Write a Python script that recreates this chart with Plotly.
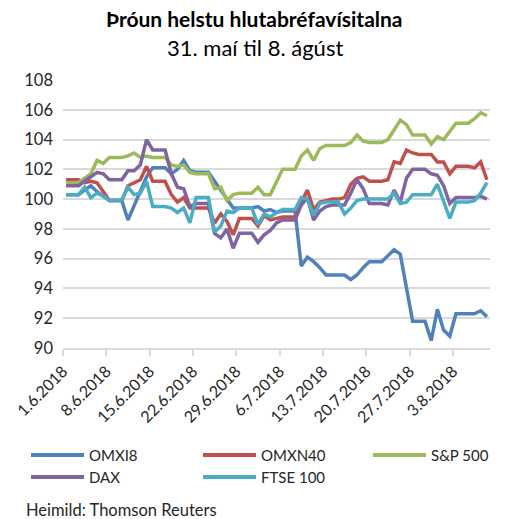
import pandas as pd
import plotly.graph_objects as go

# ---- data (calendar days 1.6.2018 - 8.8.2018, weekends carry Friday value) ----
dates = pd.date_range("2018-06-01", "2018-08-08", freq="D") + pd.Timedelta(hours=12)

omxi8 = [100.3, 100.3, 100.3, 100.6, 100.9, 100.5, 100.2, 99.9, 99.9, 99.9,
         98.6, 99.6, 100.6, 101.5, 102.1, 102.1, 102.1, 101.7, 102.0, 102.6,
         101.9, 101.8, 101.8, 101.8, 101.2, 100.6, 100.0, 99.4, 99.4, 99.4,
         99.4, 99.5, 99.2, 99.3, 99.1, 99.2, 99.2, 99.2, 95.5, 96.1,
         95.8, 95.4, 94.9, 94.9, 94.9, 94.9, 94.6, 94.9, 95.4, 95.8,
         95.8, 95.8, 96.2, 96.6, 96.3, 94.0, 91.8, 91.8, 91.8, 90.5,
         92.6, 91.2, 90.8, 92.3, 92.3, 92.3, 92.3, 92.5, 92.1]

omxn40 = [101.3, 101.3, 101.3, 101.1, 101.2, 101.1, 100.5, 99.9, 99.9, 99.9,
          100.9, 101.1, 101.3, 102.2, 101.2, 101.2, 101.2, 100.3, 99.8, 100.1,
          99.4, 99.4, 99.4, 99.4, 98.4, 99.0, 98.5, 97.6, 98.7, 98.7,
          98.7, 98.2, 98.9, 98.6, 98.7, 98.8, 98.8, 98.8, 99.8, 100.6,
          99.3, 99.8, 99.9, 100.0, 100.0, 100.1, 101.0, 101.4, 101.5, 101.2,
          101.2, 101.2, 101.3, 102.5, 102.4, 103.3, 103.1, 103.0, 103.0, 103.0,
          102.5, 102.5, 101.7, 102.2, 102.2, 102.2, 102.1, 102.5, 101.3]

sp500 = [101.1, 101.1, 101.1, 101.4, 101.7, 102.6, 102.4, 102.8, 102.8, 102.8,
         102.9, 103.1, 102.8, 102.9, 102.8, 102.8, 102.8, 102.3, 102.2, 102.3,
         101.8, 101.7, 101.7, 101.7, 100.7, 100.8, 99.9, 100.3, 100.4, 100.4,
         100.4, 100.8, 100.3, 100.3, 101.2, 102.0, 102.0, 102.0, 102.9, 103.3,
         102.6, 103.4, 103.6, 103.6, 103.6, 103.6, 103.8, 104.3, 103.9, 103.8,
         103.8, 103.8, 104.0, 104.7, 105.3, 105.0, 104.3, 104.3, 104.3, 103.7,
         104.2, 104.0, 104.6, 105.1, 105.1, 105.1, 105.4, 105.8, 105.6]

dax = [100.9, 100.9, 100.9, 101.2, 101.5, 101.8, 101.7, 101.3, 101.3, 101.3,
       101.9, 101.9, 102.3, 104.0, 103.3, 103.3, 103.3, 101.7, 100.8, 100.7,
       99.5, 99.7, 99.7, 99.7, 97.7, 97.4, 98.0, 96.7, 97.7, 97.7,
       97.7, 97.1, 97.6, 97.9, 98.4, 98.6, 98.6, 98.6, 99.6, 100.1,
       98.6, 99.2, 99.5, 99.6, 99.6, 99.6, 100.4, 101.3, 100.7, 99.7,
       99.7, 99.7, 99.6, 100.6, 99.8, 101.4, 102.0, 102.0, 102.0, 101.7,
       101.6, 100.9, 99.7, 100.1, 100.1, 100.1, 100.1, 100.2, 100.0]

ftse100 = [100.3, 100.3, 100.3, 100.8, 100.1, 100.4, 100.2, 99.9, 99.9, 99.9,
           100.8, 100.3, 100.4, 101.2, 99.5, 99.5, 99.5, 99.4, 99.1, 99.4,
           98.4, 100.1, 100.1, 100.1, 97.8, 98.2, 99.2, 99.1, 99.4, 99.4,
           99.4, 98.3, 99.0, 98.8, 99.1, 99.3, 99.3, 99.3, 100.1, 100.0,
           98.9, 99.7, 99.8, 99.8, 99.8, 99.0, 99.4, 99.9, 100.0, 100.0,
           100.0, 100.0, 100.0, 100.4, 99.7, 99.8, 100.3, 100.3, 100.3, 100.3,
           101.0, 99.8, 98.7, 99.8, 99.8, 99.8, 99.9, 100.4, 101.1]

series_names = ["OMXI8", "OMXN40", "S&P 500", "DAX", "FTSE 100"]
series_values = [omxi8, omxn40, sp500, dax, ftse100]
series_colors = ["#4F81BD", "#C0504D", "#9BBB59", "#8064A2", "#4BACC6"]

tick_dates = pd.date_range("2018-06-01", "2018-08-03", freq="7D")
tick_labels = [f"{d.day}.{d.month}.{d.year}" for d in tick_dates]
y_ticks = list(range(90, 109, 2))

title_text = "<b>Þróun helstu hlutabréfavísitalna</b>"
subtitle_text = "31. maí til 8. ágúst"
source_text = "Heimild: Thomson Reuters"

FONT = "Lato, 'Open Sans', sans-serif"
W, H = 508, 519
L, R, T, B = 63, 18, 80, 171
PW, PH = W - L - R, H - T - B


def px(xp):
    return (xp - L) / PW


def py(yp):
    return (T + PH - yp) / PH


fig = go.Figure()
for name, vals, col in zip(series_names, series_values, series_colors):
    fig.add_trace(go.Scatter(x=dates, y=vals, mode="lines", name=name,
                             line=dict(color=col, width=3.5), showlegend=False))

fig.update_layout(
    width=W, height=H,
    margin=dict(l=L, r=R, t=T, b=B),
    paper_bgcolor="white", plot_bgcolor="white",
    font=dict(family=FONT, color="#262626", size=15),
    xaxis=dict(
        type="date",
        range=["2018-06-01", "2018-08-09"],
        tickvals=list(tick_dates), ticktext=tick_labels,
        tickangle=-45, tickfont=dict(size=16, color="#262626"),
        showgrid=False, showline=True, linecolor="#D9D9D9", linewidth=1.5,
        ticks="outside", ticklen=6, tickcolor="#D9D9D9", tickwidth=1.5,
        zeroline=False,
    ),
    yaxis=dict(
        range=[90, 108], tickvals=y_ticks,
        showgrid=True, gridcolor="#D9D9D9", gridwidth=1.5,
        zeroline=False, showline=False, ticks="",
        tickfont=dict(size=16.5, color="#262626"),
        ticklabelstandoff=9,
    ),
)

annotations = [
    dict(text=title_text, x=px(254), y=py(18), xref="paper", yref="paper",
         showarrow=False, xanchor="center", yanchor="middle",
         font=dict(size=21, color="#000000", family=FONT)),
    dict(text=subtitle_text, x=px(255), y=py(47), xref="paper", yref="paper",
         showarrow=False, xanchor="center", yanchor="middle",
         font=dict(size=22, color="#000000", family=FONT)),
    dict(text=source_text, x=px(24), y=py(510), xref="paper", yref="paper",
         showarrow=False, xanchor="left", yanchor="middle",
         font=dict(size=16.5, color="#262626", family=FONT)),
]

# manual legend (2 rows x 3 cols)
legend_pos = [(31, 455), (203, 455), (373, 455), (31, 477), (203, 477)]
shapes = []
for (lx, ly), name, col in zip(legend_pos, series_names, series_colors):
    shapes.append(dict(type="line", xref="paper", yref="paper",
                       x0=px(lx), x1=px(lx + 53), y0=py(ly), y1=py(ly),
                       line=dict(color=col, width=4)))
    annotations.append(dict(text=name, x=px(lx + 56), y=py(ly), xref="paper", yref="paper",
                            showarrow=False, xanchor="left", yanchor="middle",
                            font=dict(size=15, color="#262626", family=FONT)))

fig.update_layout(annotations=annotations, shapes=shapes)
# remove the browser's default 8px body margin so the figure fills the window
fig.write_html("out.html", config={"displayModeBar": False},
               post_script="document.body.style.margin='0';")
